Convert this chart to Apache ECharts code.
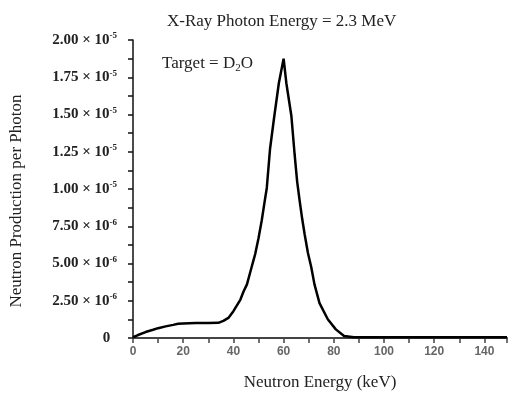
<!DOCTYPE html>
<html>
<head>
<meta charset="utf-8">
<script src="https://cdn.jsdelivr.net/npm/echarts@6/dist/echarts.min.js"></script>
<style>
  html, body { margin: 0; padding: 0; background: #fff; }
  #chart { width: 510px; height: 396px; }
</style>
</head>
<body>
<div id="chart"></div>
<script>
// neutron energy (keV)
var energyKeV = [0, 2, 5, 8, 10, 13, 16, 18, 20, 25, 30, 34, 36, 38, 40, 42.8, 44, 45.4, 47, 48.7, 50, 51.3, 52.3, 53.3, 54.6, 56.3, 58.1, 60, 61.1, 63.1, 64.4, 65.4, 66.4, 67.4, 68.4, 69.7, 71, 72.3, 74.3, 77.6, 80.8, 84.1, 88, 100, 120, 149]
// neutron production per photon, in units of 1e-6
var yieldE6 = [0.05, 0.2, 0.4, 0.55, 0.66, 0.78, 0.88, 0.95, 0.98, 1.0, 1.0, 1.02, 1.15, 1.35, 1.8, 2.58, 3.1, 3.6, 4.6, 5.65, 6.7, 7.9, 9.0, 10.07, 12.7, 14.9, 17.1, 18.75, 17.1, 14.9, 12.3, 10.5, 9.2, 8.0, 6.95, 5.7, 4.77, 3.6, 2.34, 1.26, 0.58, 0.13, 0.05, 0.05, 0.05, 0.05]
var xTicks = [0, 20, 40, 60, 80, 100, 120, 140]
var yTicks = ['0', '2.50 × 10-6', '5.00 × 10-6', '7.50 × 10-6', '1.00 × 10-5', '1.25 × 10-5', '1.50 × 10-5', '1.75 × 10-5', '2.00 × 10-5']

var points = []
for (var i = 0; i < energyKeV.length; i++) {
  points.push([energyKeV[i], yieldE6[i]])
}

const chart = echarts.init(document.getElementById('chart'))
var serif = '"Liberation Serif", "Times New Roman", serif'

var option = {
  backgroundColor: '#fff',
  animation: false,
  title: {
    text: 'X-Ray Photon Energy = 2.3 MeV',
    left: 162,
    top: 8,
    textStyle: {
      fontFamily: serif,
      fontWeight: 'normal',
      fontSize: 17,
      color: '#222'
    }
  },
  graphic: [{
    type: 'text',
    left: 162,
    top: 55,
    style: {
      text: '{t|Target = D}{sub|2}{t|O}',
      rich: {
        t: { fontFamily: serif, fontSize: 17, fill: '#222' },
        sub: { fontFamily: serif, fontSize: 11, fill: '#222', padding: [10, 0, 0, 0] }
      }
    }
  }, {
    type: 'text',
    x: 17,
    y: 201,
    rotation: Math.PI / 2,
    style: {
      text: 'Neutron Production per Photon',
      fontFamily: serif,
      fontSize: 17,
      fill: '#222',
      align: 'center',
      verticalAlign: 'middle'
    }
  }],
  grid: {
    left: 133,
    right: 0,
    top: 40,
    bottom: 54
  },
  xAxis: {
    type: 'value',
    min: 0,
    max: 149,
    interval: 20,
    name: 'Neutron Energy (keV)',
    nameLocation: 'middle',
    nameGap: 36,
    nameTextStyle: {
      fontFamily: serif,
      fontSize: 17,
      color: '#222'
    },
    axisLine: { lineStyle: { color: '#444', width: 2 } },
    axisTick: { length: 5, lineStyle: { color: '#444', width: 1.5 } },
    minorTick: { show: true, splitNumber: 2, length: 5, lineStyle: { color: '#444', width: 1.5 } },
    splitLine: { show: false },
    axisLabel: {
      color: '#666',
      fontFamily: 'Arial, "Liberation Sans", sans-serif',
      fontWeight: 'bold',
      fontSize: 12,
      margin: 8,
      formatter: function (v) {
        return xTicks.indexOf(v) >= 0 ? String(v) : ''
      }
    }
  },
  yAxis: {
    type: 'value',
    min: 0,
    max: 20,
    interval: 2.5,
    axisLine: { lineStyle: { color: '#111', width: 1.5 } },
    axisTick: { length: 5, lineStyle: { color: '#111', width: 1.5 } },
    minorTick: { show: true, splitNumber: 2, length: 5, lineStyle: { color: '#111', width: 1.5 } },
    splitLine: { show: false },
    axisLabel: {
      margin: 16,
      formatter: function (v) {
        var s = yTicks[Math.round(v / 2.5)]
        if (s === '0') return '{b|0}  '
        var parts = s.split(' × 10')
        return '{b|' + parts[0] + ' × 10}{s|' + parts[1] + '}'
      },
      rich: {
        b: { fontFamily: serif, fontWeight: 'bold', fontSize: 15, color: '#222' },
        s: { fontFamily: serif, fontWeight: 'bold', fontSize: 9, color: '#222', verticalAlign: 'top', padding: [0, 0, 8, 0] }
      }
    }
  },
  series: [{
    type: 'line',
    data: points,
    symbol: 'none',
    smooth: false,
    lineStyle: { color: '#000', width: 2.5 }
  }]
}
chart.setOption(option)
</script>
</body>
</html>
